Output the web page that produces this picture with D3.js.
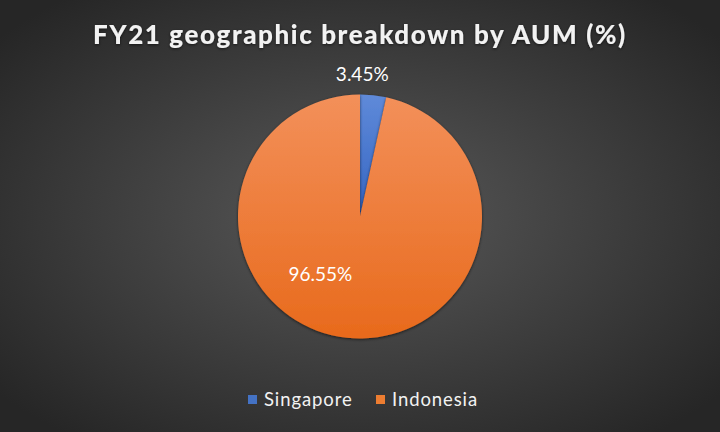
<!DOCTYPE html>
<html><head><meta charset="utf-8">
<script src="https://cdn.jsdelivr.net/npm/d3@7"></script>
<style>html,body{margin:0;padding:0;background:#333;}svg{display:block;}</style>
</head><body>
<script>
const categories = ["Singapore", "Indonesia"];
const values = [3.45, 96.55];
const labels = ["3.45%", "96.55%"];
const colors = ["#4472c4", "#ed7d31"];
const title = "FY21 geographic breakdown by AUM (%)";

const W = 720, H = 432;
const svg = d3.select("body").append("svg").attr("width", W).attr("height", H);
const defs = svg.append("defs");
const bg = defs.append("radialGradient").attr("id","bg").attr("cx","50%").attr("cy","50%").attr("r","65%");
bg.append("stop").attr("offset","0%").attr("stop-color","#595959");
bg.append("stop").attr("offset","100%").attr("stop-color","#262626");
svg.append("rect").attr("width",W).attr("height",H).attr("fill","url(#bg)");

const grads = [["#5f8ad9","#3464c2"],["#f3905a","#e86a1c"]];
grads.forEach((g,i)=>{
  const lg = defs.append("linearGradient").attr("id","g"+i).attr("x1","0").attr("y1","0").attr("x2","0").attr("y2","1");
  lg.append("stop").attr("offset","0%").attr("stop-color",g[0]);
  lg.append("stop").attr("offset","100%").attr("stop-color",g[1]);
});
const sh = defs.append("filter").attr("id","sh").attr("x","-20%").attr("y","-20%").attr("width","140%").attr("height","140%");
sh.append("feDropShadow").attr("dx",0).attr("dy",1).attr("stdDeviation",1.5).attr("flood-color","#000").attr("flood-opacity",0.6);

svg.append("text").attr("x",360).attr("y",44).attr("text-anchor","middle")
  .attr("font-family","Lato, sans-serif").attr("font-weight","900").attr("font-size",26)
  .attr("letter-spacing","1.6").attr("fill","#f2f2f2").attr("filter","url(#sh)").text(title);

const cx = 360, cy = 216.5, R = 122;
const pie = d3.pie().sort(null).value(d=>d);
const arcs = pie(values);
const arc = d3.arc().innerRadius(0).outerRadius(R);
const g = svg.append("g").attr("transform",`translate(${cx},${cy})`);
g.selectAll("path").data(arcs).join("path")
  .attr("d",arc)
  .attr("fill",(d,i)=>`url(#g${i})`)
  .attr("filter","url(#sh)");

// labels (Excel best-fit placement)
const outerArc = d3.arc().innerRadius(R+19).outerRadius(R+19);
const c0 = outerArc.centroid(arcs[0]);
g.append("text").attr("transform",`translate(${c0[0]-13},${c0[1]+5})`)
  .attr("text-anchor","middle").attr("font-family","Lato, sans-serif").attr("font-size",19)
  .attr("fill","#fff").text(labels[0]);
const a1 = 215 * Math.PI/180, r1 = R*0.58;
g.append("text").attr("transform",`translate(${r1*Math.sin(a1)+1},${-r1*Math.cos(a1)+7})`)
  .attr("text-anchor","middle").attr("font-family","Lato, sans-serif").attr("font-size",19)
  .attr("fill","#fff").text(labels[1]);

// legend
const legX = [248, 376];
const lg = svg.append("g");
categories.forEach((c,i)=>{
  lg.append("rect").attr("x",legX[i]).attr("y",395).attr("width",9).attr("height",9).attr("fill",colors[i]);
  lg.append("text").attr("x",legX[i]+16).attr("y",406).attr("font-family","Lato, sans-serif")
    .attr("font-size",18.5).attr("letter-spacing","0.9").attr("fill","#f2f2f2").text(c);
});
</script>
</body></html>
